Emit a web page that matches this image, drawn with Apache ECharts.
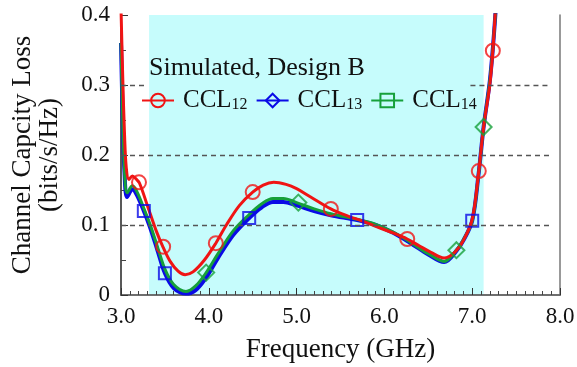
<!DOCTYPE html>
<html>
<head>
<meta charset="utf-8">
<script src="https://cdn.jsdelivr.net/npm/echarts@6/dist/echarts.min.js"></script>
<style>
  html, body { margin: 0; padding: 0; background: #fff; }
  #chart { width: 577px; height: 367px; }
</style>
</head>
<body>
<div id="chart"></div>
<script>
// CCL12 (red) curve
const freq12 = [3.0, 3.02, 3.04, 3.06, 3.09, 3.13, 3.17, 3.21, 3.3, 3.4, 3.48, 3.56, 3.65, 3.73, 3.82, 3.95, 4.08, 4.2, 4.35, 4.5, 4.62, 4.74, 4.88, 5.0, 5.16, 5.39, 5.6, 5.7, 5.88, 6.07, 6.26, 6.4, 6.53, 6.68, 6.8, 6.9, 7.0, 7.075, 7.13, 7.2, 7.235, 7.27]
const ccl12 = [0.41, 0.31, 0.23, 0.182, 0.165, 0.170, 0.166, 0.160, 0.128, 0.092, 0.068, 0.048, 0.034, 0.029, 0.033, 0.050, 0.074, 0.100, 0.128, 0.147, 0.157, 0.161, 0.158, 0.152, 0.140, 0.123, 0.112, 0.108, 0.099, 0.090, 0.080, 0.070, 0.061, 0.053, 0.061, 0.078, 0.108, 0.177, 0.240, 0.300, 0.349, 0.42]

// CCL13 (blue) and CCL14 (green) curves
const freq1314 = [3.0, 3.02, 3.04, 3.07, 3.13, 3.18, 3.26, 3.33, 3.42, 3.5, 3.6, 3.74, 3.85, 3.97, 4.1, 4.28, 4.46, 4.6, 4.73, 4.85, 5.0, 5.2, 5.39, 5.69, 5.9, 6.1, 6.3, 6.5, 6.68, 6.82, 6.9, 7.0, 7.07, 7.13, 7.2, 7.24, 7.28]
const ccl13 = [0.36, 0.25, 0.175, 0.140, 0.151, 0.143, 0.120, 0.097, 0.062, 0.031, 0.010, 0.002, 0.007, 0.025, 0.052, 0.086, 0.110, 0.125, 0.133, 0.133, 0.128, 0.120, 0.114, 0.107, 0.100, 0.089, 0.074, 0.058, 0.047, 0.063, 0.078, 0.106, 0.170, 0.240, 0.305, 0.36, 0.43]
const ccl14 = [0.36, 0.25, 0.178, 0.146, 0.156, 0.148, 0.124, 0.101, 0.067, 0.037, 0.015, 0.005, 0.013, 0.032, 0.058, 0.092, 0.115, 0.130, 0.138, 0.138, 0.132, 0.123, 0.116, 0.108, 0.101, 0.090, 0.075, 0.059, 0.048, 0.064, 0.079, 0.106, 0.170, 0.240, 0.305, 0.36, 0.43]

// sparse markers
const mark12Freq = [3.205, 3.48, 4.08, 4.50, 5.39, 6.26, 7.075, 7.235]
const mark12 = [0.161, 0.069, 0.074, 0.147, 0.123, 0.080, 0.177, 0.349]
const mark13Freq = [3.26, 3.50, 4.46, 5.69, 7.0]
const mark13 = [0.120, 0.031, 0.110, 0.107, 0.106]
const mark14Freq = [3.97, 5.02, 6.82, 7.13]
const mark14 = [0.032, 0.132, 0.064, 0.240]

// shaded band and grid levels
const bandRange = [3.32, 7.13]
const gridLevels = [0.1, 0.2]
const xTicks = [3, 4, 5, 6, 7, 8]

const FONT = 'Liberation Serif'
const RED = '#f01414'
const BLUE = '#0a0ae6'
const GREEN = '#16a03a'

const pairs = (xs, ys) => xs.map((x, i) => [x, ys[i]])

const dashLines = gridLevels.map(v => [{ coord: [3.0, v] }, { coord: [7.88, v] }])
// 0.3 line is hidden behind the legend block
dashLines.push([{ coord: [3.0, 0.3] }, { coord: [3.29, 0.3] }])
dashLines.push([{ coord: [6.98, 0.3] }, { coord: [7.88, 0.3] }])

const lineSeries = (name, xs, ys, color, width, symbol) => ({
  name,
  type: 'line',
  z: 3,
  data: pairs(xs, ys),
  smooth: 0.35,
  showSymbol: false,
  symbol,
  lineStyle: { color, width },
  itemStyle: { color: 'rgba(0,0,0,0)', borderColor: color, borderWidth: 2 },
  emphasis: { disabled: true },
})

const markerSeries = (name, xs, ys, color, symbol, size) => ({
  name,
  type: 'scatter',
  z: 4,
  data: pairs(xs, ys),
  symbol,
  symbolSize: size,
  itemStyle: { color: 'rgba(0,0,0,0)', borderColor: color, borderWidth: 2 },
  emphasis: { disabled: true },
})

const chart = echarts.init(document.getElementById('chart'))

chart.setOption({
  animation: false,
  backgroundColor: '#fff',
  grid: { left: 121, right: 17, top: 15, bottom: 72, outerBoundsMode: 'none' },
  title: {
    text: 'Simulated, Design B',
    left: 144,
    top: 50,
    textStyle: { fontFamily: FONT, fontSize: 26, fontWeight: 'normal', color: '#111' },
  },
  legend: {
    data: ['CCL12', 'CCL13', 'CCL14'],
    left: 136,
    top: 83,
    itemWidth: 32,
    itemHeight: 17,
    itemGap: 8,
    selectedMode: false,
    formatter: name => '{a|CCL}{b|' + name.slice(3) + '}',
    textStyle: {
      fontFamily: FONT,
      color: '#111',
      rich: {
        a: { fontFamily: FONT, fontSize: 25, color: '#111', padding: [0, 0, 0, 4] },
        b: { fontFamily: FONT, fontSize: 16, color: '#111', padding: [9, 0, 0, 0] },
      },
    },
  },
  xAxis: [
    {
      type: 'value',
      min: 3,
      max: 8,
      interval: 1,
      z: 2,
      name: 'Frequency (GHz)',
      nameLocation: 'middle',
      nameGap: 41,
      nameTextStyle: { fontFamily: FONT, fontSize: 27, color: '#111' },
      axisLine: { lineStyle: { color: '#222', width: 1.5 } },
      axisTick: { inside: true, length: 7, lineStyle: { color: '#333' } },
      minorTick: { show: true, splitNumber: 10, length: 4, lineStyle: { color: '#444' } },
      axisLabel: {
        margin: 10,
        fontFamily: FONT,
        fontSize: 23,
        color: '#111',
        formatter: v => (xTicks.includes(v) ? v.toFixed(1) : ''),
      },
      splitLine: { show: false },
    },
    {
      type: 'value',
      position: 'top',
      min: 3,
      max: 8,
      z: 2,
      axisLine: { show: true, lineStyle: { color: '#777', width: 1.5 } },
      axisTick: { show: false },
      axisLabel: { show: false },
      splitLine: { show: false },
    },
  ],
  yAxis: [
    {
      type: 'value',
      min: 0,
      max: 0.4,
      interval: 0.1,
      z: 2,
      name: 'Channel Capcity Loss\n(bits/s/Hz)',
      nameLocation: 'middle',
      nameGap: 58,
      nameTextStyle: { fontFamily: FONT, fontSize: 27, lineHeight: 27, color: '#111' },
      axisLine: { show: true, lineStyle: { color: '#222', width: 1.5 } },
      axisTick: { inside: true, length: 7, lineStyle: { color: '#333' } },
      minorTick: { show: true, splitNumber: 2, length: 5, lineStyle: { color: '#444' } },
      axisLabel: {
        margin: 11,
        fontFamily: FONT,
        fontSize: 23,
        color: '#111',
        formatter: v => (v === 0 ? '0' : v.toFixed(1)),
      },
      splitLine: { show: false },
    },
    {
      type: 'value',
      position: 'right',
      min: 0,
      max: 0.4,
      z: 2,
      axisLine: { show: true, lineStyle: { color: '#777', width: 1.5 } },
      axisTick: { show: false },
      axisLabel: { show: false },
      splitLine: { show: false },
    },
  ],
  series: [
    {
      name: 'band',
      type: 'line',
      z: 1,
      data: [],
      silent: true,
      markArea: {
        silent: true,
        itemStyle: { color: '#c6fcfc' },
        data: [[{ coord: [bandRange[0], 0] }, { coord: [bandRange[1], 0.4] }]],
      },
    },
    {
      name: 'levels',
      type: 'line',
      z: 2,
      data: [],
      silent: true,
      markLine: {
        silent: true,
        symbol: 'none',
        label: { show: false },
        lineStyle: { color: '#555', width: 1.3, type: [5, 4] },
        data: dashLines,
      },
    },
    lineSeries('CCL13', freq1314, ccl13, BLUE, 4, 'diamond'),
    lineSeries('CCL14', freq1314, ccl14, GREEN, 3, 'rect'),
    lineSeries('CCL12', freq12, ccl12, RED, 3, 'circle'),
    markerSeries('m13', mark13Freq, mark13, BLUE, 'rect', 12),
    markerSeries('m14', mark14Freq, mark14, GREEN, 'diamond', 16),
    markerSeries('m12', mark12Freq, mark12, RED, 'circle', 14),
  ],
})
</script>
</body>
</html>
